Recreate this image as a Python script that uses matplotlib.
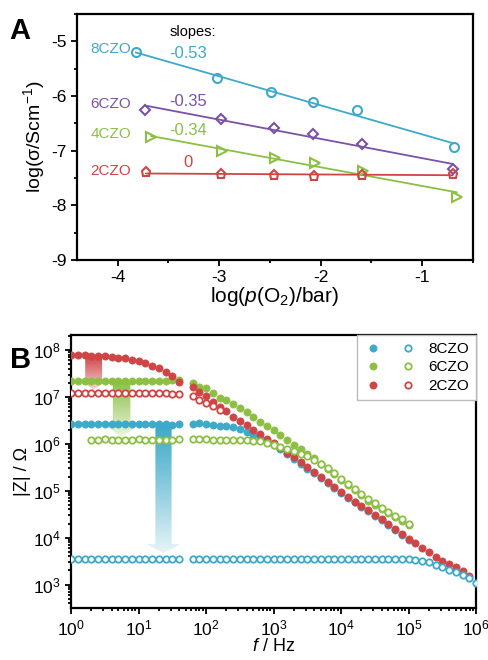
import numpy as np
import matplotlib
matplotlib.use('Agg')
import matplotlib.pyplot as plt
from matplotlib.patches import Polygon
from matplotlib.legend_handler import HandlerTuple
from matplotlib.ticker import MultipleLocator

plt.rcParams['font.family'] = ['Liberation Sans', 'DejaVu Sans']
plt.rcParams['mathtext.fontset'] = 'custom'
plt.rcParams['mathtext.rm'] = 'Liberation Sans'
plt.rcParams['mathtext.it'] = 'Liberation Sans:italic'
plt.rcParams['mathtext.bf'] = 'Liberation Sans:bold'
plt.rcParams['axes.unicode_minus'] = False

# colours
c8 = '#3ea9c9'
c6 = '#7a52a6'
c4 = '#8dbf45'
c2 = '#cf4545'

# ---- panel A data : log(pO2/bar) vs log(sigma/Scm-1)
lpo2_8 = [-3.82, -3.02, -2.49, -2.08, -1.64, -0.69]
lsig_8 = [-5.20, -5.68, -5.93, -6.11, -6.26, -6.93]
lpo2_6 = [-3.73, -2.98, -2.46, -2.08, -1.59, -0.70]
lsig_6 = [-6.26, -6.42, -6.58, -6.70, -6.87, -7.34]
lpo2_4 = [-3.67, -2.97, -2.45, -2.06, -1.58, -0.66]
lsig_4 = [-6.76, -7.01, -7.14, -7.23, -7.37, -7.84]
lpo2_2 = [-3.72, -2.98, -2.46, -2.07, -1.59, -0.70]
lsig_2 = [-7.39, -7.43, -7.45, -7.46, -7.45, -7.42]
names_a = ['8CZO', '6CZO', '4CZO', '2CZO']
slopes_a = ['-0.53', '-0.35', '-0.34', '0']

# ---- panel B data : log10(f/Hz) and log10(|Z|/Ohm)
lf_lo = [0.0, 0.1, 0.2, 0.3, 0.4, 0.5, 0.6, 0.7, 0.8, 0.9, 1.0, 1.1, 1.2, 1.3, 1.4, 1.5, 1.6]
lf_hi = [1.8, 1.9, 2.0, 2.1, 2.2, 2.3, 2.4, 2.5, 2.6, 2.7, 2.8, 2.9, 3.0, 3.1, 3.2, 3.3, 3.4,
         3.5, 3.6, 3.7, 3.8, 3.9, 4.0, 4.1, 4.2, 4.3, 4.4, 4.5, 4.6, 4.7, 4.8, 4.9, 5.0,
         5.1, 5.2, 5.3, 5.4, 5.5, 5.6, 5.7, 5.8, 5.9, 6.0]

# 8CZO
z8_fill_lo = [6.43, 6.43, 6.43, 6.42, 6.43, 6.43, 6.42, 6.43, 6.42, 6.42, 6.43, 6.42, 6.42,
              6.42, 6.42, 6.41, 6.42]
z8_fill_hi = [6.42, 6.44, 6.42, 6.40, 6.38, 6.37, 6.36, 6.31, 6.26, 6.19, 6.13, 6.06, 5.98,
              5.88, 5.78, 5.68, 5.58, 5.47, 5.37, 5.27, 5.16, 5.05, 4.95, 4.85, 4.75, 4.66,
              4.56, 4.47, 4.37, 4.27, 4.16, 4.06, 3.96]
z8_open_lo = [3.55, 3.55, 3.55, 3.55, 3.55, 3.55, 3.55, 3.55, 3.55, 3.55, 3.55, 3.55, 3.55,
              3.55, 3.55, 3.55, 3.55]
z8_open_hi = [3.55, 3.55, 3.55, 3.55, 3.55, 3.55, 3.55, 3.55, 3.55, 3.55, 3.55, 3.55, 3.55,
              3.55, 3.55, 3.55, 3.55, 3.55, 3.55, 3.55, 3.55, 3.55, 3.55, 3.55, 3.55, 3.55,
              3.55, 3.55, 3.55, 3.54, 3.54, 3.54, 3.54, 3.53, 3.51, 3.47, 3.42, 3.37, 3.31,
              3.26, 3.20, 3.13, 3.04]
# 6CZO
z6_fill_lo = [7.35, 7.35, 7.35, 7.35, 7.35, 7.35, 7.35, 7.35, 7.35, 7.35, 7.35, 7.35, 7.35,
              7.35, 7.35, 7.36, 7.37]
z6_fill_hi = [7.30, 7.22, 7.20, 7.08, 6.97, 6.93, 6.85, 6.76, 6.67, 6.57, 6.47, 6.39, 6.29,
              6.18, 6.08, 5.98, 5.88, 5.79, 5.69, 5.58, 5.47, 5.35, 5.23, 5.12, 5.01, 4.90,
              4.79, 4.70, 4.61, 4.52, 4.44, 4.36, 4.27]
z6_open_lo = [6.09, 6.09, 6.10, 6.09, 6.09, 6.09, 6.09, 6.10, 6.09, 6.09, 6.09, 6.09, 6.09, 6.10]
z6_open_hi = [6.11, 6.10, 6.10, 6.09, 6.09, 6.09, 6.09, 6.08, 6.08, 6.07, 6.05, 6.02, 5.98,
              5.94, 5.89, 5.84, 5.79, 5.73, 5.66, 5.58, 5.49, 5.38, 5.26, 5.15, 5.04, 4.93,
              4.82, 4.73, 4.64, 4.55, 4.47, 4.39, 4.30]
# 2CZO
z2_fill_lo = [7.89, 7.89, 7.89, 7.88, 7.88, 7.87, 7.86, 7.84, 7.82, 7.79, 7.76, 7.72, 7.67,
              7.61, 7.53, 7.44, 7.32]
z2_fill_hi = [7.21, 7.11, 7.01, 6.90, 6.79, 6.69, 6.58, 6.49, 6.40, 6.30, 6.21, 6.11, 6.01,
              5.91, 5.81, 5.71, 5.61, 5.50, 5.39, 5.29, 5.18, 5.07, 4.97, 4.87, 4.77, 4.68,
              4.58, 4.49, 4.39, 4.29, 4.18, 4.08, 3.98, 3.88, 3.78, 3.69, 3.59, 3.51, 3.44,
              3.37, 3.29, 3.19]
z2_open_lo = [7.09, 7.09, 7.09, 7.09, 7.09, 7.09, 7.09, 7.09, 7.09, 7.09, 7.09, 7.08, 7.08,
              7.08, 7.08, 7.07, 7.07]
z2_open_hi = [7.01, 6.94, 6.86, 6.80, 6.72]

fig = plt.figure(figsize=(4.88, 6.6), dpi=100)

# ================= panel A =================
axA = fig.add_axes([0.158, 0.606, 0.811, 0.373])
series_a = [(lpo2_8, lsig_8, c8, 'o', 6.5), (lpo2_6, lsig_6, c6, 'D', 5.5),
            (lpo2_4, lsig_4, c4, '>', 6.5), (lpo2_2, lsig_2, c2, 'p', 6.5)]
label_dy = [0.05, 0.11, 0.06, 0.02]
for (x, y, c, m, ms), nm, dy in zip(series_a, names_a, label_dy):
    x = np.array(x)
    y = np.array(y)
    k, b = np.polyfit(x, y, 1)
    xx = np.array([x.min(), x.max()])
    axA.plot(xx, k * xx + b, color=c, lw=1.3, zorder=2)
    axA.plot(x, y, ls='none', marker=m, ms=ms, mfc='none', mec=c, mew=1.5, zorder=3)
    axA.text(-3.87, y[0] + dy, nm, color=c, fontsize=11, ha='right', va='center')

axA.text(-3.49, -4.83, 'slopes:', fontsize=10.5, ha='left', va='center')
axA.text(-3.49, -5.22, slopes_a[0], color=c8, fontsize=12, ha='left', va='center')
axA.text(-3.49, -6.10, slopes_a[1], color=c6, fontsize=12, ha='left', va='center')
axA.text(-3.49, -6.64, slopes_a[2], color=c4, fontsize=12, ha='left', va='center')
axA.text(-3.31, -7.22, slopes_a[3], color=c2, fontsize=12, ha='center', va='center')

axA.set_xlim(-4.4, -0.5)
axA.set_ylim(-9, -4.5)
axA.xaxis.set_major_locator(MultipleLocator(1))
axA.xaxis.set_minor_locator(MultipleLocator(0.5))
axA.yaxis.set_major_locator(MultipleLocator(1))
axA.yaxis.set_minor_locator(MultipleLocator(0.5))
axA.tick_params(which='both', direction='out', top=False, right=False, width=1.3,
                labelsize=12.5)
axA.tick_params(which='major', length=4)
axA.tick_params(which='minor', length=2.5)
for s in axA.spines.values():
    s.set_linewidth(1.6)
axA.set_xlabel(r'log($p$(O$_2$)/bar)', fontsize=15, labelpad=0)
axA.set_ylabel(r'log(σ/Scm$^{-1}$)', fontsize=14, labelpad=3)
fig.text(0.02, 0.953, 'A', fontsize=21, fontweight='bold', va='center')

# ================= panel B =================
axB = fig.add_axes([0.1455, 0.0788, 0.830, 0.4136])
xl_log = (0.0, 6.0)
yl_log = (2.5, 8.32)


def grad_arrow(ax, xc, hb, hh, ytop, yhead, ytip, color, fade=0.85, z=1):
    # arrow given in log10 units, drawn in axes fraction with a vertical gradient
    def fx(v):
        return (v - xl_log[0]) / (xl_log[1] - xl_log[0])

    def fy(v):
        return (v - yl_log[0]) / (yl_log[1] - yl_log[0])

    pts = [(xc - hb, ytop), (xc + hb, ytop), (xc + hb, yhead), (xc + hh, yhead),
           (xc, ytip), (xc - hh, yhead), (xc - hb, yhead)]
    pts = [(fx(px), fy(py)) for px, py in pts]
    poly = Polygon(pts, closed=True, facecolor='none', edgecolor='none',
                   transform=ax.transAxes)
    ax.add_patch(poly)
    rgb = np.array(matplotlib.colors.to_rgb(color))
    t = np.linspace(0, 1, 256)[:, None] ** 1.1
    img = rgb[None, :] * (1 - fade * t) + fade * t
    img = img[:, None, :]
    im = ax.imshow(img, extent=[fx(xc - hh), fx(xc + hh), fy(ytip), fy(ytop)],
                   origin='upper', aspect='auto', interpolation='bilinear',
                   transform=ax.transAxes, zorder=z)
    im.set_clip_path(poly)


grad_arrow(axB, 0.335, 0.125, 0.17, 7.89, 7.33, 7.15, c2, fade=0.8)
grad_arrow(axB, 0.75, 0.13, 0.24, 7.35, 6.40, 6.14, c4, fade=0.85)
grad_arrow(axB, 1.37, 0.12, 0.25, 6.42, 3.86, 3.67, c8, fade=0.88)

axB.set_xscale('log')
axB.set_yscale('log')

lo = np.array(lf_lo)
hi = np.array(lf_hi)
ms_b = 5.2


def dots(lf, lz, c, filled):
    f = 10 ** np.asarray(lf)
    z = 10 ** np.asarray(lz)
    if filled:
        return axB.plot(f, z, ls='none', marker='o', ms=ms_b, mfc=c, mec=c, mew=0.5,
                        zorder=3)[0]
    return axB.plot(f, z, ls='none', marker='o', ms=ms_b - 0.6, mfc='white', mec=c,
                    mew=1.3, zorder=4)[0]


h8f = dots(lo, z8_fill_lo, c8, True)
dots(hi[:len(z8_fill_hi)], z8_fill_hi, c8, True)
h6f = dots(lo, z6_fill_lo, c4, True)
dots(hi[:len(z6_fill_hi)], z6_fill_hi, c4, True)
h2f = dots(lo, z2_fill_lo, c2, True)
dots(hi[:len(z2_fill_hi)], z2_fill_hi, c2, True)

h2o = dots(lo, z2_open_lo, c2, False)
dots(hi[:len(z2_open_hi)], z2_open_hi, c2, False)
h6o = dots(lo[3:], z6_open_lo, c4, False)
dots(hi[:len(z6_open_hi)], z6_open_hi, c4, False)
h8o = dots(lo, z8_open_lo, c8, False)
dots(hi[:len(z8_open_hi)], z8_open_hi, c8, False)

axB.set_xlim(10 ** xl_log[0], 10 ** xl_log[1])
axB.set_ylim(10 ** yl_log[0], 10 ** yl_log[1])
axB.tick_params(which='both', direction='out', top=False, right=False, width=1.3,
                labelsize=12.5)
axB.tick_params(which='major', length=4)
axB.tick_params(which='minor', length=2.5)
for s in axB.spines.values():
    s.set_linewidth(1.6)
axB.set_xlabel(r'$f$ / Hz', fontsize=13, labelpad=0)
axB.set_ylabel('|Z| / Ω', fontsize=13, labelpad=1)

leg = axB.legend([(h8f, h8o), (h6f, h6o), (h2f, h2o)], ['8CZO', '6CZO', '2CZO'],
                 handler_map={tuple: HandlerTuple(ndivide=None, pad=1.2)},
                 loc='upper right', borderaxespad=0, fancybox=False, numpoints=1,
                 handlelength=3.4, handletextpad=0.8, labelspacing=0.3,
                 fontsize=11, framealpha=1, borderpad=0.45)
leg.get_frame().set_edgecolor('#bbbbbb')
leg.get_frame().set_linewidth(1.0)

fig.text(0.02, 0.455, 'B', fontsize=21, fontweight='bold', va='center')

fig.savefig('out.png', dpi=100)
